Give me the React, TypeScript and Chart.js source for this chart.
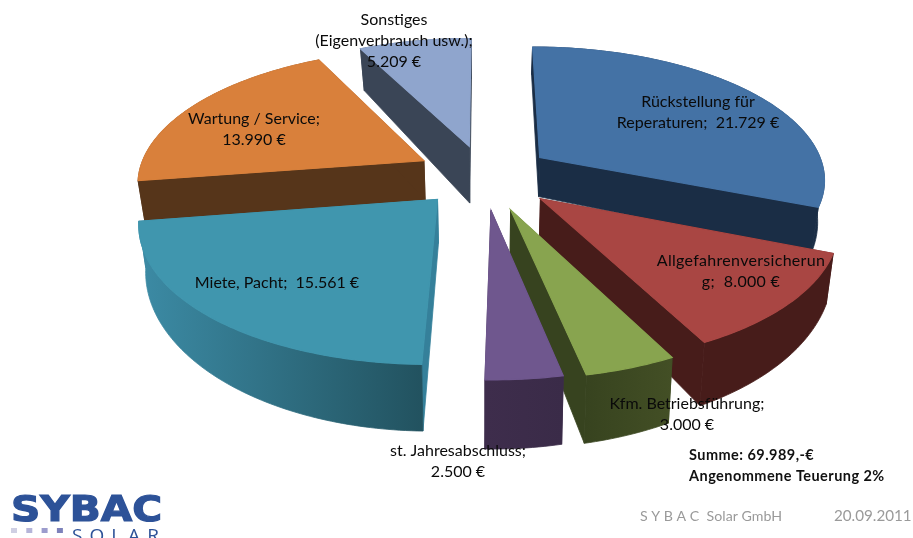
import React, { useEffect, useRef } from "react";
import { Chart, registerables } from "chart.js";

Chart.register(...registerables);

const categories = [
  "Rückstellung für Reperaturen",
  "Allgefahrenversicherung",
  "Kfm. Betriebsführung",
  "st. Jahresabschluss",
  "Miete, Pacht",
  "Wartung / Service",
  "Sonstiges (Eigenverbrauch usw.)",
];
const values = [21729, 8000, 3000, 2500, 15561, 13990, 5209];
const explodePercent = [24, 26, 27, 26, 24, 24, 23];
const topColors = ["#4472a5", "#a94643", "#88a44f", "#6f578e", "#4096ae", "#d9803b", "#8fa5cd"];
const wallLeft = ["#1a2d45", "#471c1a", "#37431f", "#3e2d4c", "#3c8ba5", "#56351a", "#3a4556"];
const wallRight = ["#1a2d45", "#471c1a", "#434f25", "#3a2b48", "#22525f", "#56351a", "#3a4556"];
const radialWall = ["#1a2d45", "#471c1a", "#37431f", "#3e2d4c", "#35809a", "#56351a", "#3a4556"];
const depthFactor = [1, 1, 1, 1, 1, 1, 1.5];
const labelLines = [
  ["Rückstellung für", "Reperaturen;  21.729 €"],
  ["Allgefahrenversicherun", "g;  8.000 €"],
  ["Kfm. Betriebsführung;", "3.000 €"],
  ["st. Jahresabschluss;", "2.500 €"],
  ["Miete, Pacht;  15.561 €"],
  ["Wartung / Service;", "13.990 €"],
  ["Sonstiges", "(Eigenverbrauch usw.);", "5.209 €"],
];
const labelCenters = [
  [698, 102],
  [741, 261],
  [687, 404],
  [458, 451],
  [277, 283],
  [254, 119],
  [394, 20],
];
const summaryLines = ["Summe: 69.989,-€", "Angenommene Teuerung 2%"];
const footerCompany = "S Y B A C  Solar GmbH";
const footerDate = "20.09.2011";
const logoSquares = ["#cfcfe3", "#b5b5d9", "#9c9ccd", "#7d82bb"];

const view = { cx: 484, cy: 175, rx: 286, ry: 132, persp: 0.15, depth: 41, shrink: 0.02 };

const project = (u: number, v: number, d = 0): [number, number] => {
  const s = 1 / (1 - view.persp * v);
  return [
    view.cx + view.rx * u * s * (1 - view.shrink * d),
    view.cy + view.ry * v * s + d * view.depth * Math.pow(s, 2.5),
  ];
};

const path = (ctx: CanvasRenderingContext2D, pts: [number, number][]) => {
  ctx.beginPath();
  pts.forEach((p, i) => (i ? ctx.lineTo(p[0], p[1]) : ctx.moveTo(p[0], p[1])));
  ctx.closePath();
};

const pie3d = {
  id: "pie3d",
  beforeDatasetsDraw(chart: any) {
    const ctx: CanvasRenderingContext2D = chart.ctx;
    const arcs = chart.getDatasetMeta(0).data;
    const slices = arcs.map((arc: any, i: number) => {
      const e = arc.options.offset / 100;
      const mid = (arc.startAngle + arc.endAngle) / 2;
      return { arc, i, e, mid, u0: e * Math.cos(mid), v0: e * Math.sin(mid) };
    });
    slices.sort((a: any, b: any) => Math.sin(a.mid) - Math.sin(b.mid));
    ctx.save();
    ctx.lineWidth = 0.8;
    for (const { arc, i, u0, v0 } of slices) {
      const n = Math.max(2, Math.ceil(((arc.endAngle - arc.startAngle) * 180) / Math.PI));
      const rim: [number, number][] = [];
      for (let k = 0; k <= n; k++) {
        const t = arc.startAngle + ((arc.endAngle - arc.startAngle) * k) / n;
        rim.push([u0 + Math.cos(t), v0 + Math.sin(t)]);
      }
      const d = depthFactor[i];
      const top = rim.map((p) => project(p[0], p[1]));
      const bottom = rim.map((p) => project(p[0], p[1], d));
      const apexTop = project(u0, v0);
      const apexBottom = project(u0, v0, d);
      ctx.fillStyle = radialWall[i];
      ctx.strokeStyle = radialWall[i];
      path(ctx, [apexTop, top[0], bottom[0], apexBottom]);
      ctx.fill();
      ctx.stroke();
      path(ctx, [apexTop, top[n], bottom[n], apexBottom]);
      ctx.fill();
      ctx.stroke();
      const xs = [...top, ...bottom].map((p) => p[0]);
      const grad = ctx.createLinearGradient(Math.min(...xs), 0, Math.max(...xs), 0);
      grad.addColorStop(0, wallLeft[i]);
      grad.addColorStop(1, wallRight[i]);
      ctx.fillStyle = grad;
      ctx.strokeStyle = grad;
      path(ctx, [...top, ...[...bottom].reverse()]);
      ctx.fill();
      ctx.stroke();
      ctx.fillStyle = arc.options.backgroundColor;
      ctx.strokeStyle = arc.options.backgroundColor;
      ctx.lineWidth = 1.2;
      path(ctx, [apexTop, ...top]);
      ctx.fill();
      ctx.stroke();
      ctx.lineWidth = 0.8;
    }
    ctx.restore();
    return false;
  },
  afterDraw(chart: any) {
    const ctx: CanvasRenderingContext2D = chart.ctx;
    const c = ctx as any;
    ctx.save();
    ctx.textBaseline = "middle";
    ctx.textAlign = "center";
    ctx.fillStyle = "#0a0a0a";
    ctx.font = "16px Lato";
    labelLines.forEach((lines, i) => {
      c.letterSpacing = i === 1 ? "0.3px" : "0px";
      lines.forEach((line, j) => {
        ctx.fillText(line, labelCenters[i][0], labelCenters[i][1] + j * 20.8);
      });
    });
    ctx.textAlign = "left";
    ctx.textBaseline = "alphabetic";
    ctx.font = "bold 14.5px Lato";
    c.letterSpacing = "0.45px";
    ctx.fillStyle = "#111";
    ctx.fillText(summaryLines[0], 689, 460);
    ctx.fillText(summaryLines[1], 689, 481);
    c.letterSpacing = "0px";
    ctx.fillStyle = "#9a9a9a";
    ctx.font = "14.2px Lato";
    ctx.fillText(footerCompany, 640, 521);
    ctx.font = "15.2px Lato";
    ctx.fillText(footerDate, 834, 521);

    ctx.fillStyle = "#2d5298";
    ctx.strokeStyle = "#2d5298";
    ctx.save();
    ctx.translate(11, 521);
    ctx.scale(1.13, 1);
    ctx.font = 'bold 36px "DejaVu Sans"';
    ctx.lineWidth = 1.2;
    ctx.fillText("SYBAC", 0, 0);
    ctx.strokeText("SYBAC", 0, 0);
    ctx.restore();
    logoSquares.forEach((col, i) => {
      ctx.fillStyle = col;
      ctx.fillRect(11 + i * 15.3, 528, 6, 5);
    });
    ctx.fillStyle = "#2d5298";
    ctx.font = '19px "Open Sans"';
    c.letterSpacing = "7px";
    ctx.fillText("SOLAR", 72, 542);
    ctx.restore();
  },
};

export default function App() {
  const ref = useRef<HTMLCanvasElement>(null);
  useEffect(() => {
    const chart = new Chart(ref.current!, {
      type: "pie",
      data: {
        labels: categories,
        datasets: [{ data: values, backgroundColor: topColors, offset: explodePercent, borderWidth: 0 }],
      },
      options: {
        animation: false,
        responsive: false,
        plugins: { legend: { display: false }, tooltip: { enabled: false } },
      },
      plugins: [pie3d],
    } as any);
    return () => chart.destroy();
  }, []);
  return (
    <div style={{ position: "fixed", left: 0, top: 0, width: 913, height: 538, background: "#fff" }}>
      <canvas ref={ref} width={913} height={538} style={{ display: "block" }} />
    </div>
  );
}
